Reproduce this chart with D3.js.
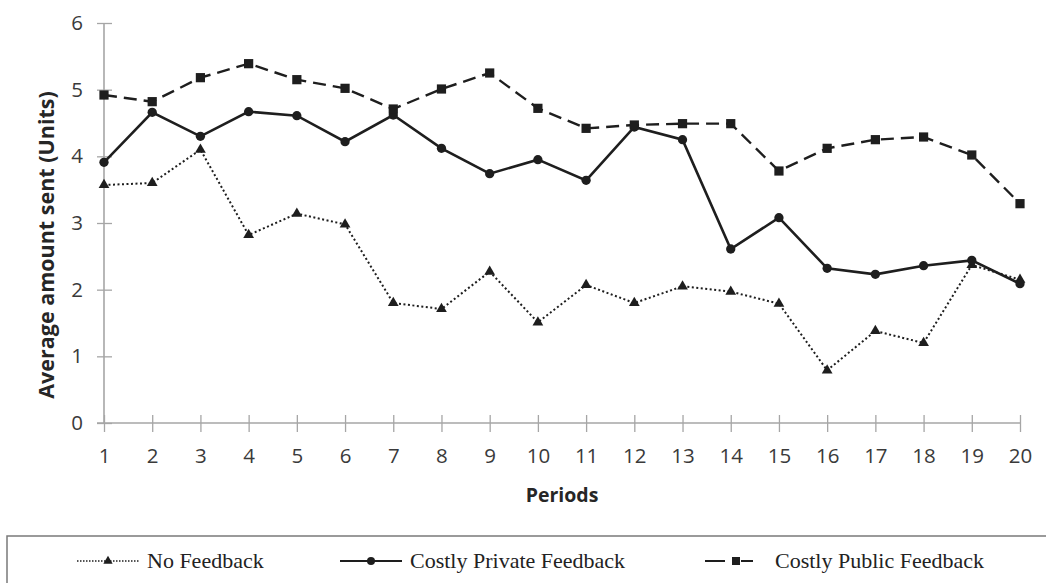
<!DOCTYPE html>
<html>
<head>
<meta charset="utf-8">
<script src="https://cdn.jsdelivr.net/npm/d3@7"></script>
<style>
  body { margin: 0; background: #fff; }
</style>
</head>
<body>
<script>

var periods = d3.range(1, 21);

var no_feedback = [3.57, 3.60, 4.10, 2.82, 3.14, 2.98, 1.80, 1.71, 2.27, 1.51,
                   2.07, 1.80, 2.05, 1.97, 1.79, 0.79, 1.38, 1.20, 2.37, 2.15];

var private_feedback = [3.91, 4.66, 4.30, 4.67, 4.61, 4.22, 4.62, 4.12, 3.74, 3.95,
                        3.64, 4.44, 4.25, 2.61, 3.08, 2.32, 2.23, 2.36, 2.44, 2.09];

var public_feedback = [4.92, 4.82, 5.18, 5.39, 5.15, 5.02, 4.71, 5.01, 5.25, 4.72,
                       4.42, 4.47, 4.49, 4.49, 3.78, 4.12, 4.25, 4.29, 4.02, 3.29];

var y_ticks = [0, 1, 2, 3, 4, 5, 6];

var series_names = ["No Feedback", "Costly Private Feedback", "Costly Public Feedback"];

function draw_chart() {

    var width = 1046,
        height = 583;

    var axis_col = "#a6a6a6",
        line_col = "#1e1e1e",
        text_col = "#3a3a3a";

    var xScale = d3.scaleLinear()
            .domain([1, 20])
            .range([104, 1020]);

    var yScale = d3.scaleLinear()
            .domain([0, 6])
            .range([423, 23]);

    var svg = d3.select("body").append("svg")
                .attr("width", width)
                .attr("height", height);

    // axes, ticks cross the axis line like in Excel
    var xAxis = d3.axisBottom(xScale)
            .tickValues(periods)
            .tickSize(0)
            .tickPadding(0)
            .tickFormat(d3.format("d"));

    var gx = svg.append("g")
            .attr("transform", "translate(0," + yScale(0) + ")")
            .call(xAxis);
    gx.select(".domain").remove();
    gx.append("line")
        .attr("x1", 97).attr("x2", xScale(20))
        .attr("stroke", axis_col).attr("stroke-width", 1.6);
    gx.selectAll(".tick line")
        .attr("y1", -8).attr("y2", 9)
        .attr("stroke", axis_col).attr("stroke-width", 1.3);
    gx.selectAll(".tick text")
        .attr("y", 40)
        .attr("dy", null)
        .style("font-family", "'Open Sans', sans-serif")
        .style("font-size", "20.5px")
        .attr("fill", text_col);

    var yAxis = d3.axisLeft(yScale)
            .tickValues(y_ticks)
            .tickSize(0)
            .tickPadding(0)
            .tickFormat(d3.format("d"));

    var gy = svg.append("g")
            .attr("transform", "translate(" + xScale(1) + ",0)")
            .call(yAxis);
    gy.select(".domain").remove();
    gy.append("line")
        .attr("y1", yScale(6)).attr("y2", yScale(0))
        .attr("stroke", axis_col).attr("stroke-width", 1.6);
    gy.selectAll(".tick line")
        .attr("x1", -7).attr("x2", 8)
        .attr("stroke", axis_col).attr("stroke-width", 1.3);
    gy.selectAll(".tick text")
        .attr("x", -21)
        .style("font-family", "'Open Sans', sans-serif")
        .style("font-size", "20.5px")
        .attr("fill", text_col);

    // axis titles
    svg.append("text")
        .attr("transform", "translate(54," + ((yScale(0) + yScale(6)) / 2 + 22) + ") rotate(-90)")
        .attr("text-anchor", "middle")
        .style("font-family", "'Open Sans', sans-serif")
        .style("font-size", "21.5px")
        .style("font-weight", "bold")
        .attr("fill", "#262626")
        .text("Average amount sent (Units)");

    svg.append("text")
        .attr("x", (xScale(1) + xScale(20)) / 2)
        .attr("y", 502)
        .attr("text-anchor", "middle")
        .style("font-family", "'Open Sans', sans-serif")
        .style("font-size", "19.5px")
        .style("font-weight", "bold")
        .attr("fill", "#262626")
        .text("Periods");

    var series = [
        { name: series_names[0], values: no_feedback, dash: "2,2.5", width: 2, symbol: d3.symbolTriangle, size: 50 },
        { name: series_names[1], values: private_feedback, dash: null, width: 2.6, symbol: d3.symbolCircle, size: 68 },
        { name: series_names[2], values: public_feedback, dash: "13,7", width: 2.4, symbol: d3.symbolSquare, size: 85 }
    ];

    var line = d3.line()
            .x(function(d, i) { return xScale(periods[i]); })
            .y(function(d) { return yScale(d); });

    series.forEach(function(s) {
        svg.append("path")
            .datum(s.values)
            .attr("d", line)
            .attr("fill", "none")
            .attr("stroke", line_col)
            .attr("stroke-width", s.width)
            .attr("stroke-dasharray", s.dash);

        svg.selectAll(null)
            .data(s.values)
            .enter().append("path")
            .attr("d", d3.symbol().type(s.symbol).size(s.size))
            .attr("transform", function(d, i) {
                return "translate(" + xScale(periods[i]) + "," + yScale(d) + ")";
            })
            .attr("fill", line_col);
    });

    // legend box runs off the bottom/right of the picture
    svg.append("rect")
        .attr("x", 7)
        .attr("y", 536)
        .attr("width", 1100)
        .attr("height", 100)
        .attr("fill", "none")
        .attr("stroke", "#7a7a7a")
        .attr("stroke-width", 1.5);

    var legend_x = [77, 340, 705];
    var legend_y = 561;

    series.forEach(function(s, i) {
        var g = svg.append("g")
                .attr("transform", "translate(" + legend_x[i] + "," + legend_y + ")");
        g.append("line")
            .attr("x1", 0).attr("x2", 62)
            .attr("stroke", line_col)
            .attr("stroke-width", i == 0 ? 1.3 : 2)
            .attr("stroke-dasharray", i == 0 ? "1.5,1.5" : (i == 2 ? "20,8,0,8,12" : null));
        g.append("path")
            .attr("d", d3.symbol().type(s.symbol).size(s.size * 0.75))
            .attr("transform", "translate(31,0)")
            .attr("fill", line_col);
        g.append("text")
            .attr("x", 70)
            .attr("y", 7)
            .style("font-family", "'Liberation Serif', serif")
            .style("font-size", "22px")
            .attr("fill", "#222")
            .text(s.name);
    });
}

draw_chart();
</script>
</body>
</html>
